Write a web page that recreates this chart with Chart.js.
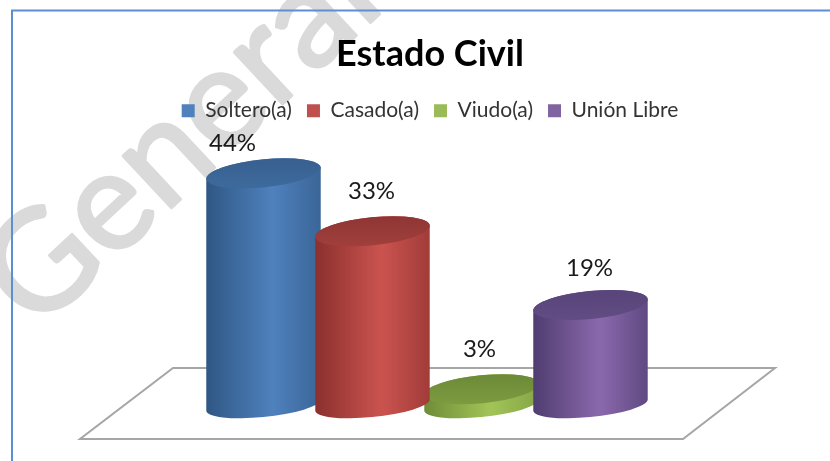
<!DOCTYPE html>
<html>
<head>
<meta charset="utf-8">
<style>html,body{margin:0;padding:0;background:#fff}canvas{display:block}</style>
<script src="https://cdn.jsdelivr.net/npm/chart.js@4"></script>
</head>
<body>
<canvas id="c" width="830" height="461"></canvas>
<script>
const categories = ['Estado Civil'];
const seriesNames = ['Soltero(a)', 'Casado(a)', 'Viudo(a)', 'Unión Libre'];
const solteroValues = [44];
const casadoValues = [33];
const viudoValues = [3];
const unionValues = [19];
const titleText = 'Estado Civil';
const watermarkText = 'General';

const legendColors = ['#4f81bd', '#c0504d', '#9bbb59', '#8064a2'];
const sideStops = [
  ['#2f5784', '#4f81bd', '#3a6597'],
  ['#8a302e', '#cb534f', '#a13c39'],
  ['#6f8c38', '#a2c457', '#86a546'],
  ['#4f3d70', '#8b68ad', '#5f4a82']
];
const capColors = [
  ['#3d6a9c', '#386090'],
  ['#a03f3c', '#8f3634'],
  ['#7c9b40', '#6d8a38'],
  ['#624c83', '#58457a']
];
const drawOrder = [0, 2, 1, 3];
const labelShift = [[-31, 30], [-1, 40], [-2, 40], [-1, 37]];

function cylinder(ctx, el, i) {
  const rx = el.width / 2, ry = 14, ryBase = 12, rot = -0.1;
  const x = el.x, top = el.y, base = el.base;
  const t0 = Math.atan((ry / rx) * Math.tan(-rot));
  const ex = rx * Math.cos(t0) * Math.cos(rot) - ry * Math.sin(t0) * Math.sin(rot);
  const ey = rx * Math.cos(t0) * Math.sin(rot) + ry * Math.sin(t0) * Math.cos(rot);
  const g = ctx.createLinearGradient(x - rx, 0, x + rx, 0);
  g.addColorStop(0, sideStops[i][0]);
  g.addColorStop(0.58, sideStops[i][1]);
  g.addColorStop(1, sideStops[i][2]);
  ctx.beginPath();
  ctx.moveTo(x - ex, top - ey);
  ctx.lineTo(x - ex, base - ey);
  ctx.ellipse(x, base, rx, ryBase, rot, t0 + Math.PI, t0, true);
  ctx.lineTo(x + ex, top + ey);
  ctx.ellipse(x, top, rx, ry, rot, t0, t0 + Math.PI, true);
  ctx.closePath();
  ctx.fillStyle = g;
  ctx.fill();
  const c = ctx.createLinearGradient(0, top + ry, 0, top - ry);
  c.addColorStop(0, capColors[i][0]);
  c.addColorStop(1, capColors[i][1]);
  ctx.beginPath();
  ctx.ellipse(x, top, rx, ry, rot, 0, Math.PI * 2);
  ctx.fillStyle = c;
  ctx.fill();
}

const cylinderPlugin = {
  id: 'cylinderPlugin',
  beforeDraw(chart) {
    const ctx = chart.ctx;
    ctx.save();
    ctx.fillStyle = '#fff';
    ctx.fillRect(0, 0, 830, 461);
    ctx.translate(36, 334);
    ctx.rotate(-0.75);
    ctx.font = '140px Lato';
    ctx.fillStyle = '#dadada';
    ctx.strokeStyle = '#dadada';
    ctx.lineWidth = 3;
    ctx.lineJoin = 'round';
    ctx.textBaseline = 'alphabetic';
    ctx.fillText(watermarkText, 0, 0);
    ctx.strokeText(watermarkText, 0, 0);
    ctx.restore();
    ctx.save();
    ctx.strokeStyle = '#5b8fd3';
    ctx.lineWidth = 2;
    ctx.beginPath();
    ctx.moveTo(12, 461);
    ctx.lineTo(12, 10.5);
    ctx.lineTo(830, 10.5);
    ctx.stroke();
    ctx.restore();
  },
  beforeDatasetsDraw(chart) {
    const ctx = chart.ctx;
    ctx.save();
    ctx.strokeStyle = '#a6a6a6';
    ctx.lineWidth = 2;
    ctx.beginPath();
    ctx.moveTo(173, 368);
    ctx.lineTo(775, 368);
    ctx.lineTo(683, 439);
    ctx.lineTo(80, 439);
    ctx.closePath();
    ctx.stroke();
    drawOrder.forEach(i => {
      const el = chart.getDatasetMeta(i).data[0];
      cylinder(ctx, el, i);
    });
    ctx.font = '24px Lato';
    ctx.fillStyle = '#1a1a1a';
    ctx.textAlign = 'center';
    ctx.textBaseline = 'middle';
    drawOrder.forEach(i => {
      const el = chart.getDatasetMeta(i).data[0];
      const v = chart.data.datasets[i].data[0];
      ctx.fillText(v + '%', el.x + labelShift[i][0], el.y - labelShift[i][1]);
    });
    ctx.restore();
  },
  beforeDatasetDraw() { return false; }
};

const seriesValues = [solteroValues, casadoValues, viudoValues, unionValues];
new Chart(document.getElementById('c'), {
  type: 'bar',
  plugins: [cylinderPlugin],
  data: {
    labels: categories,
    datasets: seriesNames.map((n, i) => ({
      label: n,
      data: seriesValues[i],
      backgroundColor: legendColors[i],
      borderWidth: 0,
      categoryPercentage: 1,
      barPercentage: 1.055
    }))
  },
  options: {
    responsive: false,
    animation: false,
    layout: { padding: { left: 30, right: 0, top: 33, bottom: 56 } },
    plugins: {
      tooltip: { enabled: false },
      title: {
        display: true,
        text: titleText,
        color: '#000',
        font: { family: 'Lato', size: 36, weight: 'bold' },
        padding: { top: 0, bottom: 9 }
      },
      legend: {
        display: true,
        position: 'top',
        labels: {
          font: { family: 'Lato', size: 21 },
          color: '#333',
          boxWidth: 13,
          boxHeight: 13,
          padding: 15
        }
      }
    },
    scales: {
      x: { display: false },
      y: {
        min: 0, max: 52,
        grid: { display: false },
        border: { display: false },
        ticks: { display: false },
        afterFit(s) { s.width = 179; }
      },
      y2: {
        position: 'right',
        min: 0, max: 52,
        grid: { display: false },
        border: { display: false },
        ticks: { display: false },
        afterFit(s) { s.width = 185; }
      }
    }
  }
});
</script>
</body>
</html>
